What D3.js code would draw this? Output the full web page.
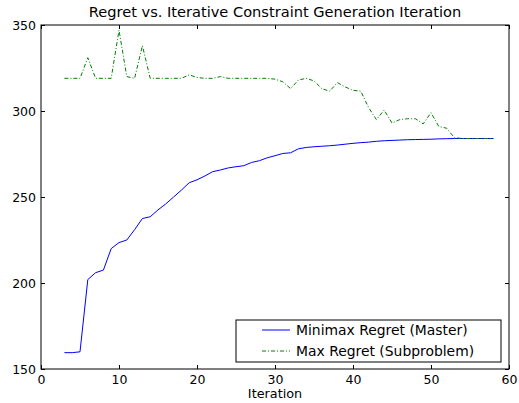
<!DOCTYPE html>
<html>
<head>
<meta charset="utf-8">
<script src="https://cdn.jsdelivr.net/npm/d3@7"></script>
<style>
body { margin: 0; background: #fff; }
svg text { font-family: 'DejaVu Sans', sans-serif; fill: #000; }
</style>
</head>
<body>
<div id="chart"></div>
<script>
'use strict'

const masterX = d3.range(3, 59)
const masterY = [159.5, 159.5, 160, 202, 206, 207.5, 220, 223.5, 225, 231,
	237.5, 238.5, 242.5, 246, 250, 254, 258.3, 260, 262.2, 264.7,
	265.7, 266.9, 267.6, 268.2, 270.1, 271.1, 272.8, 274, 275.3, 275.7,
	278, 278.8, 279.2, 279.5, 279.8, 280.2, 280.7, 281.2, 281.6, 281.9,
	282.4, 282.7, 282.9, 283.1, 283.3, 283.4, 283.5, 283.6, 283.8, 283.9,
	284, 284, 284, 284, 284, 284]

const subX = d3.range(3, 59)
const subY = [319, 319, 319, 331, 319, 319, 319, 347, 320, 319,
	338, 319, 319, 319, 319, 319, 321, 319.5, 319, 319,
	320, 319, 319, 319, 319, 319, 319, 318.5, 317, 313,
	318, 319, 317.5, 313, 311.5, 316.5, 314, 312, 311.5, 302,
	295, 300.5, 293, 295, 295.5, 295.5, 292.5, 299, 291, 290,
	284.5, 284, 284, 284, 284, 284]

const xTicks = [0, 10, 20, 30, 40, 50, 60]
const yTicks = [150, 200, 250, 300, 350]
const seriesNames = ['Minimax Regret (Master)', 'Max Regret (Subproblem)']

const width = 519,
		height = 403
const margin = { top: 25, right: 10, bottom: 34, left: 41 }

const svg = d3.select('#chart').append('svg')
	.attr('width', width)
	.attr('height', height)

const x = d3.scaleLinear().domain([0, 60]).range([margin.left, width - margin.right])
const y = d3.scaleLinear().domain([150, 350]).range([height - margin.bottom, margin.top])

const line = d3.line()
	.x(function(d) { return x(d[0]) })
	.y(function(d) { return y(d[1]) })

svg.append('path')
	.datum(masterX.map((v, i) => [v, masterY[i]]))
	.attr('fill', 'none')
	.attr('stroke', '#0000ff')
	.attr('stroke-width', 1)
	.attr('d', line)

svg.append('path')
	.datum(subX.map((v, i) => [v, subY[i]]))
	.attr('fill', 'none')
	.attr('stroke', '#008000')
	.attr('stroke-width', 1)
	.attr('stroke-dasharray', '4,2,1,2')
	.attr('d', line)

// axes: ticks pointing inward, on all four sides
const tickLen = 4
const axisBottom = d3.axisBottom(x).tickValues(xTicks).tickSizeInner(-tickLen).tickSizeOuter(0).tickPadding(6)
const axisTop = d3.axisTop(x).tickValues(xTicks).tickSizeInner(-tickLen).tickSizeOuter(0).tickFormat('')
const axisLeft = d3.axisLeft(y).tickValues(yTicks).tickSizeInner(-tickLen).tickSizeOuter(0).tickPadding(5)
const axisRight = d3.axisRight(y).tickValues(yTicks).tickSizeInner(-tickLen).tickSizeOuter(0).tickFormat('')

const gb = svg.append('g').attr('transform', `translate(0,${y(150)})`).call(axisBottom)
svg.append('g').attr('transform', `translate(0,${y(350)})`).call(axisTop)
const gl = svg.append('g').attr('transform', `translate(${x(0)},0)`).call(axisLeft)
svg.append('g').attr('transform', `translate(${x(60)},0)`).call(axisRight)

svg.selectAll('.domain').remove()
svg.selectAll('.tick line').attr('stroke', '#000').attr('stroke-width', 1)
gb.selectAll('text').attr('font-size', 12.5).attr('font-family', 'DejaVu Sans')
gl.selectAll('text').attr('font-size', 12.5).attr('font-family', 'DejaVu Sans')

svg.append('rect')
	.attr('x', x(0))
	.attr('y', y(350))
	.attr('width', x(60) - x(0))
	.attr('height', y(150) - y(350))
	.attr('fill', 'none')
	.attr('stroke', '#000')
	.attr('stroke-width', 1)

svg.append('text')
	.attr('x', (x(0) + x(60)) / 2)
	.attr('y', 17)
	.attr('text-anchor', 'middle')
	.attr('font-size', 14.6)
	.text('Regret vs. Iterative Constraint Generation Iteration')

svg.append('text')
	.attr('x', (x(0) + x(60)) / 2)
	.attr('y', 398)
	.attr('text-anchor', 'middle')
	.attr('font-size', 12.8)
	.text('Iteration')

// legend
const legend = svg.append('g').attr('transform', 'translate(236,320)')
legend.append('rect')
	.attr('width', 265)
	.attr('height', 42)
	.attr('fill', '#fff')
	.attr('stroke', '#000')
	.attr('stroke-width', 1)

const legendStyles = [
	{ color: '#0000ff', dash: null },
	{ color: '#008000', dash: '4,2,1,2' }
]
seriesNames.forEach((name, i) => {
	const ly = 10 + i * 21
	legend.append('line')
		.attr('x1', 26).attr('x2', 54)
		.attr('y1', ly).attr('y2', ly)
		.attr('stroke', legendStyles[i].color)
		.attr('stroke-width', 1)
		.attr('stroke-dasharray', legendStyles[i].dash)
	legend.append('text')
		.attr('x', 60)
		.attr('y', ly + 5)
		.attr('font-size', 13.9)
		.text(name)
})
</script>
</body>
</html>
